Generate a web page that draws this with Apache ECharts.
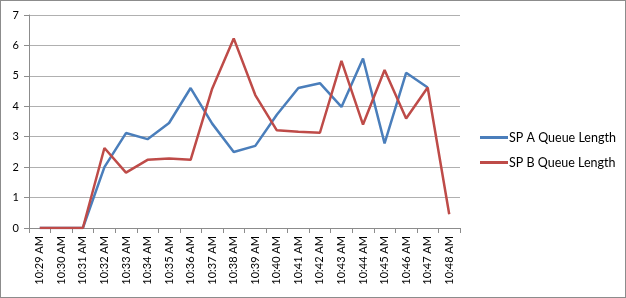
<!DOCTYPE html>
<html><head><meta charset="utf-8">
<script src="https://cdn.jsdelivr.net/npm/echarts@6/dist/echarts.min.js"></script>
<style>
html,body{margin:0;padding:0;background:#fff;}
#wrap{position:absolute;left:0;top:0;width:624px;height:296px;border:1px solid #8c8c8c;}
#c{width:626px;height:298px;position:absolute;left:0;top:0;}
</style></head>
<body><div id="c"></div><div id="wrap"></div>
<script>
var categories = ['10:29 AM','10:30 AM','10:31 AM','10:32 AM','10:33 AM','10:34 AM','10:35 AM','10:36 AM','10:37 AM','10:38 AM','10:39 AM','10:40 AM','10:41 AM','10:42 AM','10:43 AM','10:44 AM','10:45 AM','10:46 AM','10:47 AM','10:48 AM'];
var spA = [0,0,0,2.0,3.12,2.92,3.45,4.6,3.43,2.5,2.7,3.72,4.6,4.76,3.98,5.57,2.78,5.1,4.62,null];
var spB = [0,0,0,2.63,1.82,2.24,2.28,2.24,4.58,6.23,4.37,3.21,3.16,3.13,5.49,3.4,5.19,3.6,4.62,0.45];
var seriesNames = ['SP A Queue Length','SP B Queue Length'];
var yTicks = {min:0,max:7,interval:1};
var chart = echarts.init(document.getElementById('c'));
var font = 'Lato, "Open Sans", sans-serif';
chart.setOption({
  animation:false,
  backgroundColor:'#fff',
  grid:{left:29,right:166,top:15,bottom:70,containLabel:false},
  legend:{
    orient:'vertical',left:475,top:126,itemGap:12,itemWidth:28,itemHeight:3,
    icon:'rect',
    textStyle:{fontFamily:font,fontSize:12.5,color:'#000',padding:[0,0,0,-4]},
    data:seriesNames
  },
  xAxis:{
    type:'category',data:categories,boundaryGap:true,
    axisLine:{lineStyle:{color:'#8c8c8c',width:1}},
    axisTick:{show:true,length:5,alignWithLabel:false,lineStyle:{color:'#8c8c8c'}},
    axisLabel:{rotate:90,interval:0,fontFamily:font,fontSize:11,color:'#000',margin:8},
    splitLine:{show:false}
  },
  yAxis:{
    type:'value',min:yTicks.min,max:yTicks.max,interval:yTicks.interval,
    axisLine:{show:true,lineStyle:{color:'#8c8c8c',width:1}},
    axisTick:{show:true,length:5,lineStyle:{color:'#8c8c8c'}},
    axisLabel:{fontFamily:font,fontSize:11,color:'#000',margin:10},
    splitLine:{lineStyle:{color:'#b0b0b0',width:1}}
  },
  series:[
    {name:seriesNames[0],type:'line',data:spA,symbol:'none',connectNulls:false,
     itemStyle:{color:'#4A7EBB'},lineStyle:{color:'#4A7EBB',width:2.5}},
    {name:seriesNames[1],type:'line',data:spB,symbol:'none',
     itemStyle:{color:'#BE4B48'},lineStyle:{color:'#BE4B48',width:2.5}}
  ]
});
</script></body></html>
